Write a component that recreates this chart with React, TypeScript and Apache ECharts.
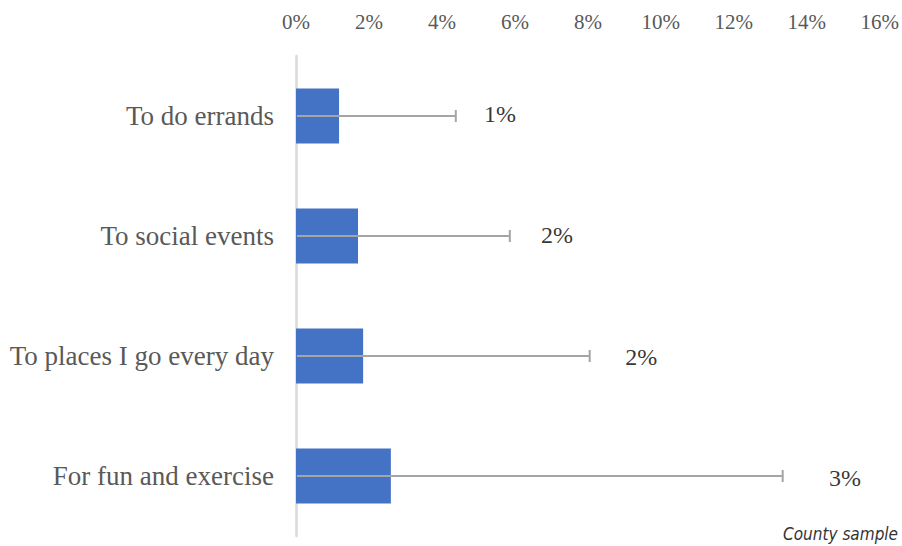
import React, { useEffect, useRef } from "react";
import * as echarts from "echarts";

const categories = ["To do errands", "To social events", "To places I go every day", "For fun and exercise"];
const values = [1.18, 1.7, 1.84, 2.6];
const errorHigh = [4.38, 5.86, 8.05, 13.34];
const labels = ["1%", "2%", "2%", "3%"];
const xTicks = [0, 2, 4, 6, 8, 10, 12, 14, 16];

export default function App() {
  const ref = useRef<HTMLDivElement>(null);
  useEffect(() => {
    const chart = echarts.init(ref.current!, null, { renderer: "svg" });
    chart.setOption({
      animation: false,
      textStyle: { fontFamily: "Liberation Serif, serif" },
      grid: { left: 296, right: 22, top: 56, bottom: 10 },
      xAxis: {
        type: "value",
        position: "top",
        min: xTicks[0],
        max: xTicks[xTicks.length - 1],
        interval: 2,
        axisLine: { show: false },
        axisTick: { show: false },
        splitLine: { show: false },
        axisLabel: {
          formatter: (v: number) => v + "%",
          color: "#595959",
          fontFamily: "Liberation Serif",
          fontSize: 21,
          margin: 24,
        },
      },
      yAxis: {
        type: "category",
        data: categories,
        inverse: true,
        axisLine: { show: true, lineStyle: { color: "#d9d9d9", width: 2.5 } },
        axisTick: { show: false },
        axisLabel: {
          color: "#595959",
          fontFamily: "Liberation Serif",
          fontSize: 27,
          margin: 22,
        },
      },
      series: [
        {
          type: "bar",
          data: values,
          barWidth: "46%",
          itemStyle: { color: "#4472c4" },
          z: 2,
        },
        {
          type: "custom",
          z: 3,
          data: errorHigh.map((h, i) => [i, h]),
          renderItem: (params: any, api: any) => {
            const i = api.value(0);
            const h = api.value(1);
            const start = api.coord([0, i]);
            const end = api.coord([h, i]);
            const capH = 6;
            return {
              type: "group",
              children: [
                {
                  type: "line",
                  shape: { x1: start[0] + 1, y1: start[1], x2: end[0], y2: end[1] },
                  style: { stroke: "#a5a5a5", lineWidth: 2 },
                },
                {
                  type: "line",
                  shape: { x1: end[0], y1: end[1] - capH, x2: end[0], y2: end[1] + capH },
                  style: { stroke: "#a5a5a5", lineWidth: 2 },
                },
              ],
            };
          },
        },
        {
          type: "scatter",
          z: 4,
          symbolSize: 1,
          itemStyle: { color: "rgba(0,0,0,0)" },
          label: {
            show: true,
            position: "right",
            formatter: (p: any) => labels[p.dataIndex],
            color: "#000000",
            fontFamily: "Liberation Serif",
            fontSize: 24,
          },
          data: errorHigh.map((h, i) => ({
            value: [h, i],
            label: {
              distance: 19 + h * 2,
              offset: [0, i * 1.3 - 2],
            },
          })),
        },
      ],
      graphic: [
        {
          type: "text",
          right: 4,
          bottom: 4,
          style: {
            text: "County sample",
            fill: "#333",
            fontFamily: "DejaVu Sans Condensed, DejaVu Sans",
            fontStyle: "italic",
            fontSize: 17,
          },
        },
      ],
    });
    return () => chart.dispose();
  }, []);
  return <div ref={ref} style={{ width: 902, height: 546, position: "absolute", left: 0, top: 0 }} />;
}
